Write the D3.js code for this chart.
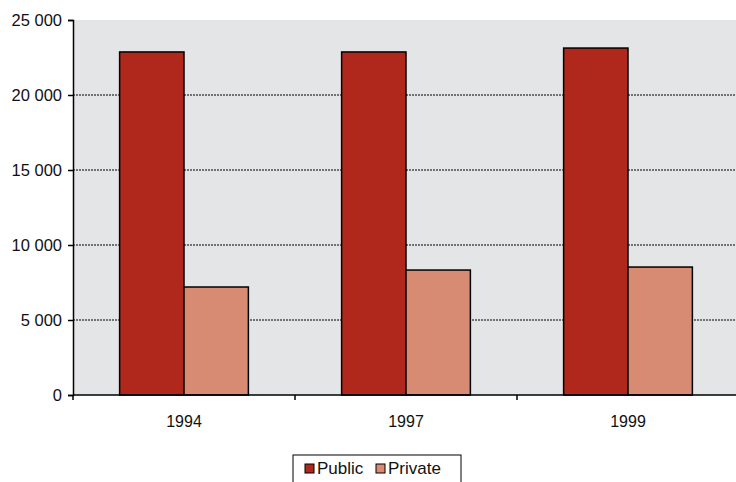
<!DOCTYPE html>
<html>
<head>
<meta charset="utf-8">
<script src="https://cdn.jsdelivr.net/npm/d3@7"></script>
<style>
  body { margin: 0; background: #fff; }
  svg text { font-family: "Liberation Sans", Arial, sans-serif; fill: #111; }
</style>
</head>
<body>
<svg id="chart" width="736" height="482" viewBox="0 0 736 482"></svg>
<script>
let years = ["1994", "1997", "1999"];
let seriesNames = ["Public", "Private"];
let publicValues = [22870, 22870, 23130];
let privateValues = [7200, 8330, 8530];
let yTicks = [0, 5000, 10000, 15000, 20000, 25000];
let colors = ["#b0281c", "#d68b72"];

let margins = {top: 20, right: -3, bottom: 87, left: 73};
let totalWidth = 736, totalHeight = 482;
let innerWidth = totalWidth - margins.left - margins.right;
let innerHeight = totalHeight - margins.top - margins.bottom;

let chart = d3.select("#chart");

let x = d3.scaleBand(years, [0, innerWidth]).paddingInner(0.42).paddingOuter(0.21);
let xSub = d3.scaleBand(seriesNames, [0, x.bandwidth()]);
let y = d3.scaleLinear([0, 25000], [innerHeight, 0]);

let g = chart.append("g").attr("transform", `translate(${margins.left},${margins.top})`);

g.append("rect")
    .attr("width", innerWidth)
    .attr("height", innerHeight)
    .style("fill", "#e4e5e7");

// dotted gridlines
g.append("g")
    .selectAll("line")
    .data(yTicks.filter(d => d > 0 && d < 25000))
    .join("line")
    .attr("x1", 0).attr("x2", innerWidth)
    .attr("y1", d => y(d)).attr("y2", d => y(d))
    .attr("stroke", "#000")
    .attr("stroke-width", 1)
    .attr("stroke-dasharray", "2,1");

let rows = years.map((yr, i) => ({year: yr, values: [publicValues[i], privateValues[i]]}));

g.append("g")
    .selectAll("g")
    .data(rows)
    .join("g")
    .attr("transform", d => `translate(${x(d.year)},0)`)
    .selectAll("rect")
    .data(d => d.values.map((v, j) => ({name: seriesNames[j], value: v, color: colors[j]})))
    .join("rect")
    .attr("x", d => xSub(d.name))
    .attr("y", d => y(d.value))
    .attr("width", xSub.bandwidth())
    .attr("height", d => innerHeight - y(d.value))
    .attr("fill", d => d.color)
    .attr("stroke", "#000")
    .attr("stroke-width", 1.5);

// y axis
let yAxis = g.append("g")
    .call(d3.axisLeft(y).tickValues(yTicks).tickSize(5).tickPadding(6)
        .tickFormat(d => d3.format(",")(d).replace(",", " ")));
yAxis.selectAll("text").style("font-size", "16.5px");
yAxis.select(".domain").attr("stroke", "#000").attr("stroke-width", 1.5);
yAxis.selectAll(".tick line").attr("stroke-width", 1.5);

// x axis with ticks between categories
let step = x.step();
let xAxis = g.append("g").attr("transform", `translate(0,${innerHeight})`);
xAxis.append("line")
    .attr("x1", 0).attr("x2", innerWidth)
    .attr("stroke", "#000").attr("stroke-width", 1.5);
xAxis.selectAll(".sep")
    .data(years.map((d, i) => i))
    .join("line")
    .attr("class", "sep")
    .attr("x1", i => x(years[0]) - x.paddingOuter() * step + i * step)
    .attr("x2", i => x(years[0]) - x.paddingOuter() * step + i * step)
    .attr("y1", 0).attr("y2", 5)
    .attr("stroke", "#000").attr("stroke-width", 1.5);
xAxis.selectAll("text")
    .data(years)
    .join("text")
    .attr("x", d => x(d) + x.bandwidth() / 2)
    .attr("y", 32)
    .attr("text-anchor", "middle")
    .style("font-size", "16px")
    .text(d => d);

// legend
let legend = chart.append("g").attr("transform", "translate(293,455)");
legend.append("rect")
    .attr("width", 168).attr("height", 30)
    .attr("fill", "#fff").attr("stroke", "#000").attr("stroke-width", 1);
let items = legend.selectAll(".item")
    .data(seriesNames)
    .join("g")
    .attr("class", "item")
    .attr("transform", (d, i) => `translate(${[12, 83][i]},9)`);
items.append("rect")
    .attr("width", 9).attr("height", 9)
    .attr("fill", (d, i) => colors[i])
    .attr("stroke", "#000").attr("stroke-width", 1);
items.append("text")
    .attr("x", 12).attr("y", 10)
    .style("font-size", "17px")
    .text(d => d);
</script>
</body>
</html>
